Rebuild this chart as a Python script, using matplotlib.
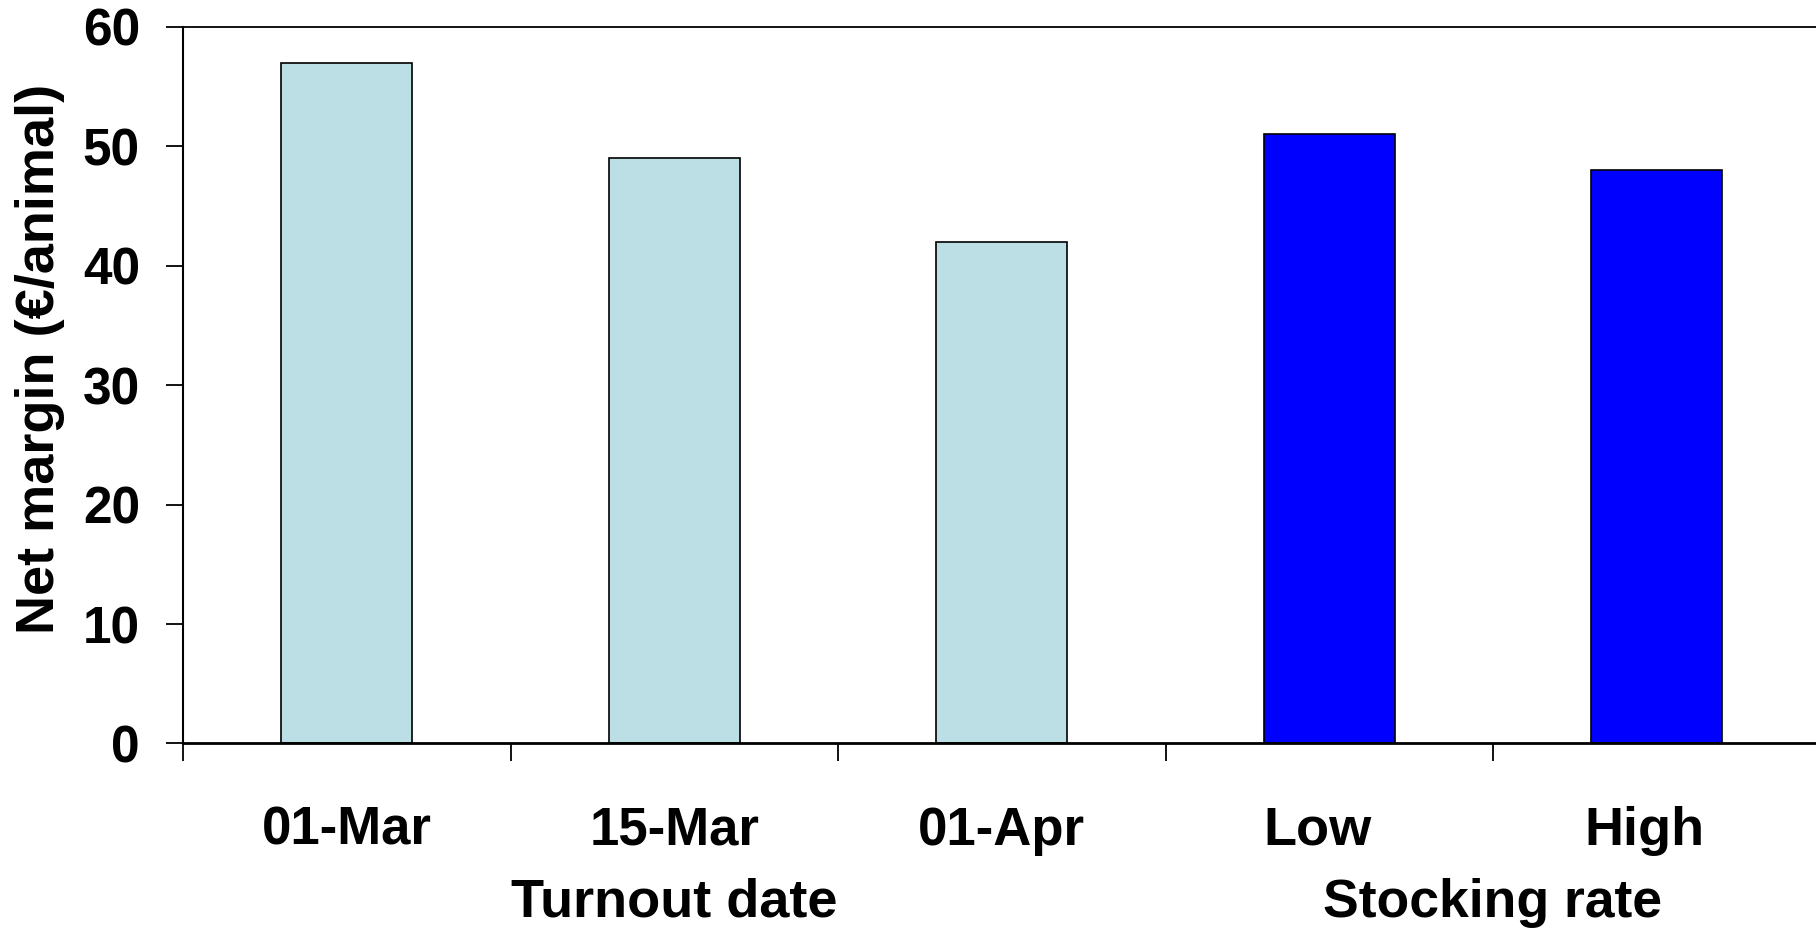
import matplotlib
matplotlib.use("Agg")
import matplotlib.pyplot as plt
import matplotlib.transforms as mtransforms
from matplotlib import font_manager

categories = ["01-Mar", "15-Mar", "01-Apr", "Low", "High"]
net_margin = [57, 49, 42, 51, 48]
bar_colors = ["#BCDFE5", "#BCDFE5", "#BCDFE5", "#0000FF", "#0000FF"]
group_labels = ["Turnout date", "Stocking rate"]
group_centers = [1.5, 4.0]
y_ticks = [0, 10, 20, 30, 40, 50, 60]

WIDE = ["Liberation Sans", "DejaVu Sans"]
installed = {f.name for f in font_manager.fontManager.ttflist}
has_narrow = "Liberation Sans Narrow" in installed

fig = plt.figure(figsize=(18.16, 9.31), dpi=100)
ax = fig.add_axes([0.1008, 0.2014, 0.9017, 0.7696])

centers = [i + 0.5 for i in range(len(categories))]
ax.bar(centers, net_margin, width=0.4, color=bar_colors,
       edgecolor="black", linewidth=1.2)

ax.set_xlim(0, len(categories))
ax.set_ylim(0, 60)

# tick marks sit on the category boundaries, labels are drawn as text
ax.set_xticks(range(len(categories) + 1))
ax.set_xticklabels([])
ax.tick_params(axis="x", direction="out", length=13, width=1.3)

ax.set_yticks(y_ticks)
ax.set_yticklabels([str(v) for v in y_ticks], fontfamily=WIDE,
                   fontweight="bold", fontsize=37)
ax.tick_params(axis="y", direction="out", length=12, width=1.3, pad=19)

ax.spines["right"].set_visible(False)
ax.spines["top"].set_linewidth(1.3)
ax.spines["left"].set_linewidth(1.5)
ax.spines["bottom"].set_linewidth(2.0)

trans = mtransforms.blended_transform_factory(ax.transData, ax.transAxes)
for i, (x, cat) in enumerate(zip(centers, categories)):
    if i < 3:
        ax.text(x, -0.141, cat, transform=trans, ha="center", va="baseline",
                fontsize=38, fontweight="bold", family=WIDE)
    else:
        ax.text(x - 0.037, -0.141, cat, transform=trans, ha="center",
                va="baseline", fontsize=39, fontweight="bold", family=WIDE)

if has_narrow:
    ax.text(group_centers[0], -0.242, group_labels[0], transform=trans,
            ha="center", va="baseline", fontsize=46, fontweight="bold",
            family=["Liberation Sans Narrow"] + WIDE)
else:
    ax.text(group_centers[0], -0.242, group_labels[0], transform=trans,
            ha="center", va="baseline", fontsize=39, fontweight="bold",
            family=WIDE)
ax.text(group_centers[1], -0.242, group_labels[1], transform=trans,
        ha="center", va="baseline", fontsize=38.5, fontweight="bold",
        family=WIDE)

fig.text(0.0223, 0.614, "Net margin (€/animal)", rotation=90,
         ha="center", va="center", fontsize=39, fontweight="bold",
         family=WIDE)

fig.savefig("out.png", dpi=100)
